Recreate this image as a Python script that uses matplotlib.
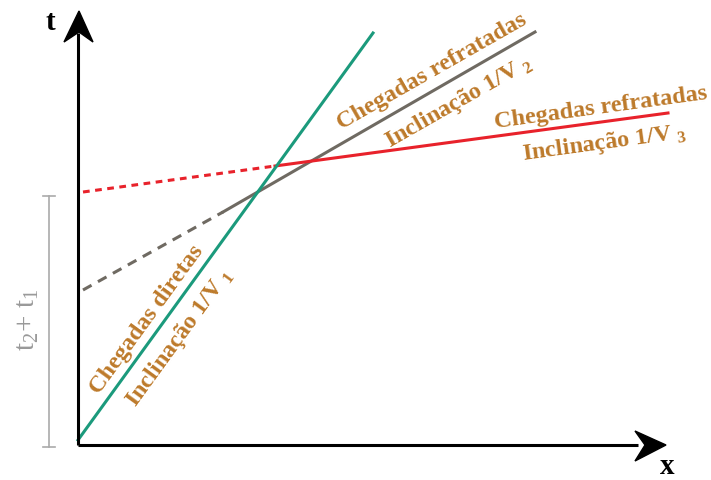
import matplotlib
matplotlib.use("Agg")
import matplotlib.pyplot as plt
from matplotlib.patches import Polygon

plt.rcParams['mathtext.fontset'] = 'custom'
plt.rcParams['mathtext.rm'] = 'Liberation Serif'
plt.rcParams['mathtext.bf'] = 'Liberation Serif:bold'

# ---- data (x = distance, t = time, arbitrary units) ----
direct_x = [0, 295]
direct_t = [5, 412]

refr2_dash_x = [5, 145]
refr2_dash_t = [155, 233]
refr2_x = [145, 457]
refr2_t = [233, 413]

refr3_dot_x = [5, 197]
refr3_dot_t = [253, 279]
refr3_x = [197, 590]
refr3_t = [279, 332]

intercept_t = [-2, 249]

labels = {
    "direct": ("Chegadas diretas", r"Inclinação 1/V$_{\ \mathbf{1}}$"),
    "refr2": ("Chegadas refratadas", r"Inclinação 1/V$_{\ \mathbf{2}}$"),
    "refr3": ("Chegadas refratadas", r"Inclinação 1/V$_{\ \mathbf{3}}$"),
}

GREEN = '#1b9a7c'
GRAY = '#6f6a62'
RED = '#e8222b'
BROWN = '#bd7a2b'

fig = plt.figure(figsize=(7.11, 4.81), dpi=100)
ax = fig.add_axes([0, 0, 1, 1])
ax.set_xlim(-78, 633)
ax.set_ylim(-35, 446)
ax.axis('off')

# axes with arrowheads
ax.plot([0, 0], [0, 412], color='black', lw=2.2, solid_capstyle='butt', zorder=5)
ax.plot([0, 560], [0, 0], color='black', lw=2.2, solid_capstyle='butt', zorder=5)
ax.add_patch(Polygon([[1, 434], [-14, 403], [1, 413], [15, 403]], closed=True,
                     color='black', zorder=6))
ax.add_patch(Polygon([[588, 0], [557, 14], [567, 0], [557, -16]], closed=True,
                     color='black', zorder=6))
ax.text(-28, 424, "t", fontsize=21, fontweight='bold', family='Liberation Serif',
        ha='center', va='center')
ax.text(589, -21, "x", fontsize=21, fontweight='bold', family='Liberation Serif',
        ha='center', va='center')

# travel-time lines
ax.plot(direct_x, direct_t, color=GREEN, lw=2.2, zorder=4)
ax.plot(refr2_dash_x, refr2_dash_t, color=GRAY, lw=2.2, dashes=(3.2, 2.4), zorder=3)
ax.plot(refr2_x, refr2_t, color=GRAY, lw=2.2, zorder=3)
ax.plot(refr3_dot_x, refr3_dot_t, color=RED, lw=2.2, dashes=(2.2, 1.8), zorder=3)
ax.plot(refr3_x, refr3_t, color=RED, lw=2.2, zorder=3)

# intercept bracket
bx = -29
ax.plot([bx, bx], intercept_t, color='#aaaaaa', lw=1.2)
for tv in intercept_t:
    ax.plot([bx - 6, bx + 6], [tv, tv], color='#aaaaaa', lw=1.2)
ax.text(-50, 126, r"t$_2$+ t$_1$", rotation=90, fontsize=21, color='#999999',
        family='Liberation Serif', ha='center', va='center')

# annotations
fs = 17.5
kw = dict(fontsize=fs, fontweight='bold', color=BROWN, family='Liberation Serif',
          ha='center', va='center', rotation_mode='anchor')
ax.text(69, 126, labels["direct"][0], rotation=54, **kw)
ax.text(102, 108, labels["direct"][1], rotation=54, **kw)
ax.text(354, 374, labels["refr2"][0], rotation=29.7, **kw)
ax.text(381, 344, labels["refr2"][1], rotation=29.7, **kw)
ax.text(523, 338, labels["refr3"][0], rotation=7.8, **kw)
ax.text(526, 303, labels["refr3"][1], rotation=7.8, **kw)

fig.savefig("out.png", dpi=100)
